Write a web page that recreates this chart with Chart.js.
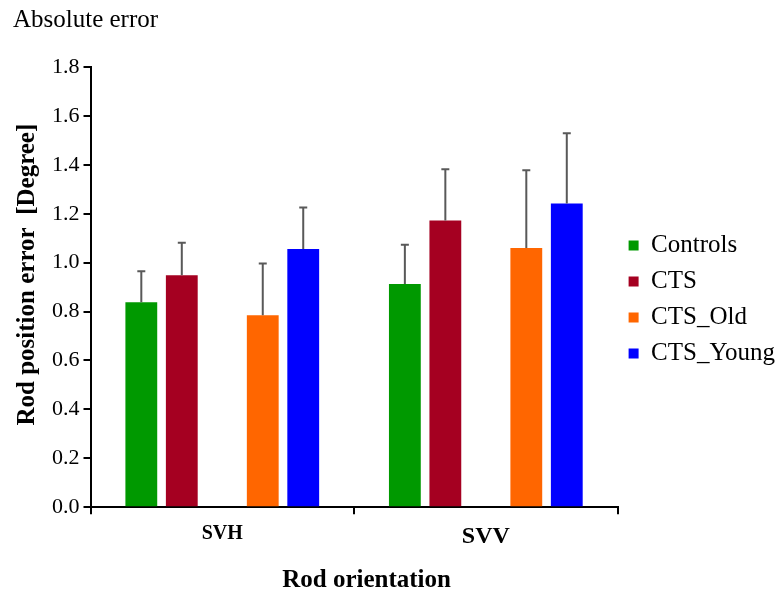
<!DOCTYPE html>
<html>
<head>
<meta charset="utf-8">
<title>Absolute error</title>
<script src="https://cdn.jsdelivr.net/npm/chart.js@4.4.1/dist/chart.umd.min.js"></script>
<style>
  html, body { margin: 0; padding: 0; background: #fff; }
  #wrap { width: 780px; height: 594px; position: relative; }
</style>
</head>
<body>
<div id="wrap"><canvas id="error-chart"></canvas></div>
<script>
// values (mean and upper error)
var categories = ["SVH", "SVV"];
var controls = [0.838, 0.913];
var controlsErr = [0.127, 0.160];
var cts = [0.948, 1.172];
var ctsErr = [0.133, 0.210];
var ctsOld = [0.785, 1.060];
var ctsOldErr = [0.211, 0.318];
var ctsYoung = [1.056, 1.242];
var ctsYoungErr = [0.169, 0.287];
var yTicks = [0.0, 0.2, 0.4, 0.6, 0.8, 1.0, 1.2, 1.4, 1.6, 1.8];

var serif = "'Liberation Serif', 'DejaVu Serif', serif";

/* draws the upward error whisker with a cap on each bar */
var errorBars = {
  id: 'errorBars',
  afterDatasetsDraw: function(chart) {
    var ctx = chart.ctx;
    var yScale = chart.scales.y;
    ctx.save();
    ctx.strokeStyle = '#595959';
    ctx.lineWidth = 2;
    chart.data.datasets.forEach(function(ds, i) {
      if (!ds.errors) return;
      var meta = chart.getDatasetMeta(i);
      meta.data.forEach(function(bar, j) {
        var top = yScale.getPixelForValue(ds.data[j] + ds.errors[j]);
        ctx.beginPath();
        ctx.moveTo(bar.x, bar.y);
        ctx.lineTo(bar.x, top);
        ctx.moveTo(bar.x - 4, top);
        ctx.lineTo(bar.x + 4, top);
        ctx.stroke();
      });
    });
    ctx.restore();
  }
};

var barOpts = { categoryPercentage: 0.768, barPercentage: 0.786 };

function series(label, data, errors, color) {
  return Object.assign({
    label: label,
    data: data,
    errors: errors,
    backgroundColor: color,
    borderWidth: 0
  }, barOpts);
}

var chart = new Chart(document.getElementById('error-chart'), {
  type: 'bar',
  data: {
    labels: categories,
    datasets: [
      series("Controls", controls, controlsErr, '#009900'),
      series("CTS", cts, ctsErr, '#A50021'),
      // empty slot, leaves the gap between CTS and CTS_Old
      Object.assign({ label: "", data: [null, null], backgroundColor: 'rgba(0,0,0,0)' }, barOpts),
      series("CTS_Old", ctsOld, ctsOldErr, '#FF6600'),
      series("CTS_Young", ctsYoung, ctsYoungErr, '#0000FF')
    ]
  },
  options: {
    responsive: true,
    maintainAspectRatio: false,
    animation: false,
    layout: { padding: { left: 13, right: -5, top: 5, bottom: 0 } },
    plugins: {
      title: {
        display: true,
        text: "Absolute error",
        align: 'start',
        color: '#000',
        font: { family: serif, size: 25, weight: 'normal' },
        padding: { top: 0, bottom: 32 }
      },
      legend: {
        position: 'right',
        labels: {
          color: '#000',
          boxWidth: 10,
          boxHeight: 10,
          padding: 11,
          font: { family: serif, size: 25 },
          filter: function(item) { return item.text !== ""; }
        }
      },
      tooltip: { enabled: false }
    },
    scales: {
      x: {
        grid: { drawOnChartArea: false, color: '#000', lineWidth: 2, tickLength: 7, offset: true },
        border: { color: '#000', width: 2 },
        ticks: {
          color: '#000',
          padding: 8,
          font: function(c) {
            return { family: serif, weight: 'bold', size: c.index === 0 ? 20 : 24 };
          }
        },
        title: {
          display: true,
          // leading spaces nudge the centred title to the right as in the figure
          text: "    Rod orientation",
          color: '#000',
          font: { family: serif, size: 25, weight: 'bold', lineHeight: 1 },
          padding: { top: 9, bottom: 1 }
        }
      },
      y: {
        min: 0,
        max: 1.8,
        afterBuildTicks: function(axis) {
          axis.ticks = yTicks.map(function(v) { return { value: v }; });
        },
        grid: { drawOnChartArea: false, color: '#000', lineWidth: 2, tickLength: 7 },
        border: { color: '#000', width: 2 },
        ticks: {
          color: '#000',
          padding: 4,
          font: { family: serif, size: 22 },
          callback: function(v) { return Number(v).toFixed(1); }
        },
        title: {
          display: true,
          text: "    Rod position error  [Degree]",
          color: '#000',
          font: { family: serif, size: 25, weight: 'bold' },
          padding: { top: 0, bottom: 5 }
        }
      }
    }
  },
  plugins: [errorBars]
});
</script>
</body>
</html>
